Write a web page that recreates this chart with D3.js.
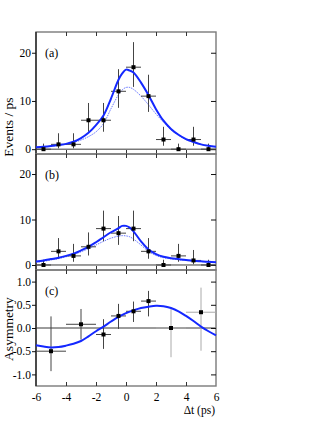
<!DOCTYPE html>
<html><head><meta charset="utf-8">
<script src="https://cdn.jsdelivr.net/npm/d3@7"></script>
<style>body{margin:0;background:#fff}svg{display:block}svg text{font-family:"Liberation Serif","Times New Roman",serif !important;fill:#000}</style>
</head><body>
<svg id="c" width="332" height="430" font-family="Liberation Serif"></svg>
<script>
// ---- data ----
const binCenters = [-5.5,-4.5,-3.5,-2.5,-1.5,-0.5,0.5,1.5,2.5,3.5,4.5,5.5];
const countsA = [0,1,1,6,6,12,17,11,2,0,2,0];
const errHiA  = [1.15,2.30,2.30,3.58,3.58,4.59,5.20,4.44,2.64,1.15,2.64,1.15];
const errLoA  = [0,0.83,0.83,2.38,2.38,3.43,4.08,3.27,1.29,0,1.29,0];
const countsB = [0,3,2,4,8,7,8,3,0,2,1,0];
const errHiB  = [1.15,2.92,2.64,3.16,3.95,3.77,3.95,2.92,1.15,2.64,2.30,1.15];
const errLoB  = [0,1.63,1.29,1.91,2.77,2.58,2.77,1.63,0,1.29,0.83,0];

const asymX     = [-5,-3,-1.5,-0.5,0.5,1.5,3,5];
const asymXErr  = [1,1,0.5,0.5,0.5,0.5,1,1];
const asymY     = [-0.50,0.08,-0.14,0.26,0.36,0.58,0.0,0.34];
const asymErrHi = [0.75,0.33,0.33,0.26,0.21,0.22,0.45,0.53];
const asymErrLo = [0.43,0.33,0.31,0.28,0.23,0.33,0.63,0.83];

const curveX = [-6,-5.5,-5,-4.5,-4,-3.5,-3,-2.5,-2,-1.5,-1,-0.5,-0.25,0,0.25,0.5,1,1.5,2,2.5,3,3.5,4,4.5,5,5.5,6];
const fitA   = [0.4,0.5,0.65,0.85,1.1,1.55,2.3,3.4,5.0,7.0,10.5,14.4,15.7,16.5,16.3,15.9,13.8,11.2,8.3,5.9,4.2,3.0,2.1,1.5,1.0,0.7,0.5];
const sigA   = [0.4,0.5,0.6,0.8,1.0,1.4,1.9,2.6,3.6,5.3,8.4,11.3,12.3,12.8,12.8,12.4,11.0,9.2,7.3,5.6,4.0,2.9,2.0,1.45,1.0,0.7,0.5];
const fitB   = [0.75,1.0,1.3,1.6,2.0,2.5,3.2,4.0,5.0,6.1,7.2,8.1,8.6,8.6,8.2,7.4,5.2,3.4,2.4,1.8,1.5,1.3,1.1,0.95,0.8,0.7,0.6];
const sigB   = [0.6,0.8,1.1,1.4,1.8,2.3,2.9,3.6,4.4,5.2,5.9,6.35,6.45,6.4,6.2,5.7,4.4,3.0,2.1,1.6,1.35,1.15,1.0,0.85,0.75,0.65,0.55];

const asymCurveX = [-6,-5.5,-5,-4.5,-4,-3.5,-3,-2.5,-2,-1.5,-1,-0.5,0,0.5,1,1.5,2,2.5,3,3.5,4,4.5,5,5.5,6];
const asymCurve  = [-0.37,-0.40,-0.42,-0.41,-0.38,-0.34,-0.28,-0.18,-0.07,0.03,0.14,0.24,0.32,0.38,0.43,0.46,0.48,0.47,0.43,0.36,0.26,0.15,0.03,-0.07,-0.16];

const xTicks = [-6,-4,-2,0,2,4,6];
const countTicks = [0,10,20];
const asymTicks = [-1.0,-0.5,0.0,0.5,1.0];
const panelLabels = ["(a)","(b)","(c)"];

// ---- layout ----
const svg = d3.select("#c");
const FONT = "Liberation Serif";
const X0 = 36, X1 = 216;
const x = d3.scaleLinear().domain([-6,6]).range([X0,X1]);
const yA = d3.scaleLinear().domain([-1.0,24.3]).range([154,32]);
const yB = d3.scaleLinear().domain([-1.1,24.4]).range([270,154]);
const yC = d3.scaleLinear().domain([-1.25,1.25]).range([386,270]);

const blue = "#1428ff";
const fmtC = d => (d<0?"-":"") + Math.abs(d).toFixed(1);

function panel(y, label, yticks, fmt){
  const [b,t] = y.range();
  svg.append("line").attr("x1",X0).attr("x2",X1).attr("y1",y(0)).attr("y2",y(0))
    .attr("stroke","#222").attr("stroke-width",0.9);
  svg.append("rect").attr("x",X0).attr("y",t).attr("width",X1-X0).attr("height",b-t)
    .attr("fill","none").attr("stroke","#7a7a7a").attr("stroke-width",1.4);
  svg.append("line").attr("x1",X0).attr("x2",X0).attr("y1",t).attr("y2",b)
    .attr("stroke","#111").attr("stroke-width",1.2);
  const ga = svg.append("g").attr("transform",`translate(${X0},0)`)
    .call(d3.axisLeft(y).tickValues(yticks).tickSize(4).tickPadding(1).tickFormat(fmt));
  ga.attr("font-family",FONT).attr("font-size",11.5);
  ga.select(".domain").remove();
  ga.selectAll("line").attr("stroke","#111");
  const gr = svg.append("g").attr("transform",`translate(${X1},0)`)
    .call(d3.axisRight(y).tickValues(yticks).tickSize(-5).tickFormat(""));
  gr.select(".domain").remove();
  gr.selectAll("line").attr("stroke","#111");
  const inner = xTicks.filter(v=>v>-6&&v<6);
  const gb = svg.append("g").attr("transform",`translate(0,${b})`)
    .call(d3.axisBottom(x).tickValues(inner).tickSize(-4).tickFormat(""));
  gb.select(".domain").remove(); gb.selectAll("line").attr("stroke","#333");
  const gt = svg.append("g").attr("transform",`translate(0,${t})`)
    .call(d3.axisTop(x).tickValues(inner).tickSize(-4).tickFormat(""));
  gt.select(".domain").remove(); gt.selectAll("line").attr("stroke","#333");
  svg.append("text").attr("x",45).attr("y",t+25).attr("font-size",12).text(label);
}

function counts(y, vals, hi, lo, fit, sig){
  const g = svg.append("g");
  const data = binCenters.map((c,i)=>({x:c,v:vals[i],hi:hi[i],lo:lo[i]}));
  const line = d3.line().x((d,i)=>x(curveX[i])).y(d=>y(d)).curve(d3.curveCatmullRom.alpha(0.5));
  g.append("path").attr("d",line(sig)).attr("fill","none").attr("stroke","#5566ff")
    .attr("stroke-width",0.9).attr("stroke-dasharray","1.5,1");
  g.selectAll(".eh").data(data).join("line")
    .attr("x1",d=>x(d.x-0.5)).attr("x2",d=>x(d.x+0.5)).attr("y1",d=>y(d.v)).attr("y2",d=>y(d.v))
    .attr("stroke","#444").attr("stroke-width",1);
  g.selectAll(".ev").data(data).join("line")
    .attr("x1",d=>x(d.x)).attr("x2",d=>x(d.x)).attr("y1",d=>y(d.v+d.hi)).attr("y2",d=>y(d.v-d.lo))
    .attr("stroke","#444").attr("stroke-width",1);
  g.append("path").attr("d",line(fit)).attr("fill","none").attr("stroke",blue).attr("stroke-width",2);
  g.selectAll(".m").data(data).join("rect")
    .attr("x",d=>x(d.x)-2).attr("y",d=>y(d.v)-2).attr("width",4).attr("height",4).attr("fill","#000");
}

panel(yA, panelLabels[0], countTicks, d3.format("d"));
counts(yA, countsA, errHiA, errLoA, fitA, sigA);
panel(yB, panelLabels[1], countTicks, d3.format("d"));
counts(yB, countsB, errHiB, errLoB, fitB, sigB);
panel(yC, panelLabels[2], asymTicks, fmtC);

{
  const g = svg.append("g");
  const data = asymX.map((v,i)=>({x:v,xe:asymXErr[i],y:asymY[i],hi:asymErrHi[i],lo:asymErrLo[i]}));
  const col = d => d.x > 2 ? "#aaaaaa" : "#444";
  g.selectAll(".eh").data(data).join("line")
    .attr("x1",d=>x(d.x-d.xe)).attr("x2",d=>x(d.x+d.xe)).attr("y1",d=>yC(d.y)).attr("y2",d=>yC(d.y))
    .attr("stroke",col).attr("stroke-width",1);
  g.selectAll(".ev").data(data).join("line")
    .attr("x1",d=>x(d.x)).attr("x2",d=>x(d.x)).attr("y1",d=>yC(d.y+d.hi)).attr("y2",d=>yC(d.y-d.lo))
    .attr("stroke",col).attr("stroke-width",1);
  const line = d3.line().x((d,i)=>x(asymCurveX[i])).y(d=>yC(d)).curve(d3.curveCatmullRom.alpha(0.5));
  g.append("path").attr("d",line(asymCurve)).attr("fill","none").attr("stroke",blue).attr("stroke-width",2);
  g.selectAll(".m").data(data).join("rect")
    .attr("x",d=>x(d.x)-2).attr("y",d=>yC(d.y)-2).attr("width",4).attr("height",4).attr("fill","#000");
}

const gx = svg.append("g").attr("transform","translate(0,386)")
  .call(d3.axisBottom(x).tickValues(xTicks).tickSize(0).tickPadding(7).tickFormat(d=>(d<0?"-":"")+Math.abs(d)));
gx.attr("font-family",FONT).attr("font-size",11.5);
gx.select(".domain").remove();

svg.append("text").attr("x",215).attr("y",414).attr("text-anchor","end").attr("font-size",11.5).text("Δt (ps)");
svg.append("text").attr("transform","translate(13,127) rotate(-90)").attr("text-anchor","middle").attr("font-size",13.5).text("Events / ps");
svg.append("text").attr("transform","translate(13,329) rotate(-90)").attr("text-anchor","middle").attr("font-size",13.5).text("Asymmetry");
</script>
</body></html>
